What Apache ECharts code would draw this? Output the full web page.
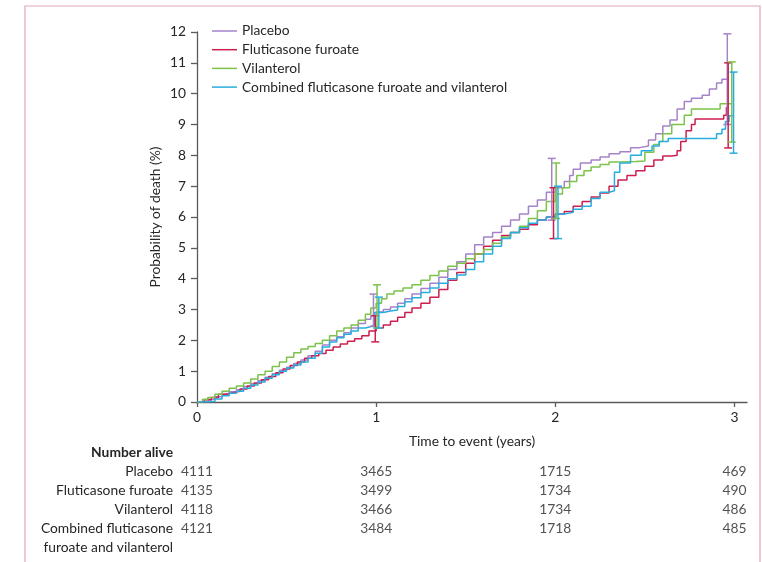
<!DOCTYPE html>
<html>
<head>
<meta charset="utf-8">
<script src="https://cdn.jsdelivr.net/npm/echarts@6/dist/echarts.min.js"></script>
<style>
  html, body { margin: 0; padding: 0; background: #fff; }
  #chart { width: 762px; height: 562px; }
</style>
</head>
<body>
<div id="chart"></div>
<script>
// --- data ---
const years = [0, 1, 2, 3]
const groups = ['Placebo', 'Fluticasone furoate', 'Vilanterol', 'Combined fluticasone furoate and vilanterol']
const colors = ['#a583c8', '#cc1f4f', '#7dc24a', '#27aee0']

// cumulative probability of death (%) — [years, %]
const placebo = [
  [0, 0], [0.03, 0.05], [0.07, 0.1], [0.1, 0.17], [0.14, 0.25], [0.18, 0.33], [0.22, 0.4], [0.26, 0.5],
  [0.3, 0.6], [0.34, 0.7], [0.38, 0.8], [0.42, 0.92], [0.46, 1.03], [0.5, 1.13], [0.54, 1.25], [0.58, 1.36],
  [0.62, 1.5], [0.66, 1.65], [0.7, 1.85], [0.74, 2.0], [0.78, 2.12], [0.82, 2.25], [0.86, 2.4], [0.9, 2.55],
  [0.94, 2.68], [0.97, 2.8], [1.0, 2.92], [1.04, 3.0], [1.08, 3.08], [1.12, 3.2], [1.16, 3.35], [1.2, 3.5],
  [1.25, 3.68], [1.3, 3.85], [1.35, 4.05], [1.4, 4.3], [1.45, 4.55], [1.5, 4.8], [1.55, 5.1], [1.6, 5.35],
  [1.65, 5.5], [1.7, 5.7], [1.75, 5.9], [1.8, 6.1], [1.85, 6.35], [1.9, 6.55], [1.95, 6.8], [2.0, 6.95],
  [2.05, 7.15], [2.08, 7.35], [2.1, 7.55], [2.14, 7.75], [2.2, 7.85], [2.25, 7.95], [2.3, 8.05], [2.36, 8.12],
  [2.42, 8.25], [2.47, 8.3], [2.52, 8.5], [2.56, 8.7], [2.6, 8.95], [2.64, 9.15], [2.68, 9.5], [2.72, 9.75],
  [2.76, 9.85], [2.82, 9.95], [2.86, 10.15], [2.9, 10.35], [2.93, 10.47], [2.96, 10.47],
]
const fluticasone = [
  [0, 0], [0.04, 0.08], [0.08, 0.15], [0.12, 0.25], [0.16, 0.3], [0.2, 0.35], [0.24, 0.42], [0.28, 0.52],
  [0.32, 0.62], [0.36, 0.72], [0.4, 0.83], [0.44, 0.95], [0.48, 1.07], [0.52, 1.18], [0.56, 1.3], [0.6, 1.42],
  [0.64, 1.5], [0.68, 1.57], [0.72, 1.68], [0.76, 1.78], [0.8, 1.88], [0.84, 1.97], [0.88, 2.05], [0.92, 2.15],
  [0.96, 2.3], [1.0, 2.4], [1.04, 2.5], [1.08, 2.62], [1.12, 2.75], [1.16, 2.9], [1.2, 3.05], [1.25, 3.2],
  [1.3, 3.4], [1.35, 3.65], [1.4, 3.95], [1.45, 4.2], [1.5, 4.5], [1.55, 4.8], [1.6, 5.05], [1.65, 5.25],
  [1.7, 5.4], [1.75, 5.5], [1.8, 5.6], [1.85, 5.75], [1.9, 5.9], [1.95, 6.0], [2.0, 6.1], [2.05, 6.18],
  [2.1, 6.35], [2.15, 6.5], [2.2, 6.65], [2.25, 6.78], [2.3, 7.0], [2.35, 7.2], [2.4, 7.35], [2.45, 7.5],
  [2.5, 7.65], [2.55, 7.85], [2.6, 7.98], [2.65, 8.0], [2.68, 8.15], [2.7, 8.45], [2.73, 8.8], [2.76, 9.0],
  [2.78, 9.18], [2.9, 9.18], [2.94, 9.3], [2.955, 9.55], [2.965, 9.55],
]
const vilanterol = [
  [0, 0], [0.03, 0.08], [0.06, 0.15], [0.1, 0.25], [0.14, 0.35], [0.18, 0.45], [0.22, 0.52], [0.26, 0.62],
  [0.3, 0.75], [0.34, 0.88], [0.38, 1.0], [0.42, 1.15], [0.46, 1.3], [0.5, 1.45], [0.54, 1.6], [0.58, 1.72],
  [0.62, 1.8], [0.66, 1.9], [0.7, 2.0], [0.74, 2.15], [0.78, 2.3], [0.82, 2.4], [0.86, 2.5], [0.9, 2.65],
  [0.94, 2.85], [0.97, 3.05], [1.0, 3.2], [1.03, 3.35], [1.06, 3.5], [1.1, 3.6], [1.15, 3.7], [1.2, 3.8],
  [1.25, 3.95], [1.3, 4.1], [1.35, 4.25], [1.4, 4.4], [1.45, 4.5], [1.5, 4.65], [1.55, 4.8], [1.6, 4.95],
  [1.65, 5.15], [1.7, 5.35], [1.75, 5.5], [1.8, 5.7], [1.85, 5.95], [1.9, 6.2], [1.95, 6.5], [2.0, 6.75],
  [2.04, 6.95], [2.08, 7.15], [2.12, 7.35], [2.16, 7.5], [2.2, 7.62], [2.25, 7.7], [2.3, 7.78], [2.36, 7.8],
  [2.45, 7.82], [2.5, 8.1], [2.55, 8.35], [2.58, 8.45], [2.6, 8.7], [2.65, 9.0], [2.7, 9.0], [2.72, 9.3],
  [2.76, 9.5], [2.88, 9.5], [2.92, 9.67], [2.985, 9.67],
]
const combined = [
  [0, 0], [0.06, 0.02], [0.1, 0.1], [0.14, 0.2], [0.18, 0.28], [0.22, 0.35], [0.26, 0.45], [0.3, 0.55],
  [0.34, 0.65], [0.38, 0.77], [0.42, 0.88], [0.46, 1.0], [0.5, 1.1], [0.54, 1.2], [0.58, 1.3], [0.62, 1.42],
  [0.66, 1.58], [0.7, 1.78], [0.74, 1.95], [0.78, 2.08], [0.82, 2.2], [0.86, 2.3], [0.9, 2.4], [0.94, 2.45],
  [0.97, 2.5], [0.99, 2.9], [1.04, 2.95], [1.08, 2.98], [1.12, 3.1], [1.16, 3.25], [1.2, 3.38], [1.25, 3.55],
  [1.3, 3.7], [1.35, 3.85], [1.4, 4.0], [1.45, 4.12], [1.5, 4.3], [1.55, 4.55], [1.6, 4.8], [1.65, 5.05],
  [1.7, 5.3], [1.75, 5.5], [1.8, 5.65], [1.85, 5.8], [1.9, 5.9], [1.95, 6.0], [2.0, 6.1], [2.05, 6.15],
  [2.1, 6.25], [2.15, 6.35], [2.2, 6.6], [2.25, 6.8], [2.3, 6.85], [2.33, 7.45], [2.36, 7.75], [2.42, 8.0],
  [2.48, 8.15], [2.54, 8.3], [2.58, 8.45], [2.63, 8.55], [2.88, 8.55], [2.9, 8.7], [2.93, 8.85], [2.95, 9.1],
  [2.97, 9.28], [2.995, 9.28],
]
const curves = [placebo, fluticasone, vilanterol, combined]

// 95% CI bars — [years, lower, upper]
const placeboCI = [[0.985, 2.45, 3.5], [1.98, 5.9, 7.9], [2.96, 9.0, 11.94]]
const fluticasoneCI = [[0.995, 1.95, 2.8], [1.99, 5.3, 6.95], [2.965, 8.24, 11.0]]
const vilanterolCI = [[1.005, 2.4, 3.8], [2.005, 5.95, 7.75], [2.985, 8.43, 11.03]]
const combinedCI = [[1.015, 2.4, 3.4], [2.015, 5.3, 7.0], [2.995, 8.07, 10.7]]
const intervals = [placeboCI, fluticasoneCI, vilanterolCI, combinedCI]

// number alive table
const alivePlacebo = [4111, 3465, 1715, 469]
const aliveFluticasone = [4135, 3499, 1734, 490]
const aliveVilanterol = [4118, 3466, 1734, 486]
const aliveCombined = [4121, 3484, 1718, 485]
const alive = [alivePlacebo, aliveFluticasone, aliveVilanterol, aliveCombined]
const tableRows = ['Number alive', 'Placebo', 'Fluticasone furoate', 'Vilanterol', 'Combined fluticasone', 'furoate and vilanterol']

const FONT = 'Lato'
const FS = 13.8
const TEXT = '#262626'
const AXIS = '#5a5a5a'

const chart = echarts.init(document.getElementById('chart'))

function errorBar(params, api) {
  const x = api.value(0)
  const lo = api.coord([x, api.value(1)])
  const hi = api.coord([x, api.value(2)])
  const style = { stroke: api.visual('color'), lineWidth: 1.5 }
  return {
    type: 'group',
    children: [
      { type: 'line', shape: { x1: lo[0], y1: lo[1], x2: hi[0], y2: hi[1] }, style },
      { type: 'line', shape: { x1: lo[0] - 4, y1: lo[1], x2: lo[0] + 4, y2: lo[1] }, style },
      { type: 'line', shape: { x1: hi[0] - 4, y1: hi[1], x2: hi[0] + 4, y2: hi[1] }, style },
    ],
  }
}

// table cells: [year, row label, count]
const tableCells = []
alive.forEach((row, i) => {
  row.forEach((n, j) => tableCells.push([years[j], tableRows[i + 1], n]))
})

const option = {
  animation: false,
  backgroundColor: '#fff',
  textStyle: { fontFamily: FONT },
  graphic: [
    { type: 'rect', shape: { x: 25, y: 6, width: 735, height: 600 }, style: { fill: 'none', stroke: '#e2a4ba', lineWidth: 1.2 }, silent: true },
  ],
  legend: {
    data: groups,
    orient: 'vertical',
    left: 212,
    top: 24,
    padding: 0,
    icon: 'rect',
    itemWidth: 25,
    itemHeight: 1.5,
    itemGap: 4.7,
    textStyle: { fontFamily: FONT, fontSize: FS, color: TEXT, lineHeight: 14 },
  },
  grid: [
    { left: 197, right: 15, top: 32, bottom: 160 },
    { left: 197, right: 15, top: 443.5, height: 114 },
  ],
  xAxis: [
    {
      type: 'value',
      min: 0,
      max: 3.07,
      interval: 1,
      name: 'Time to event (years)',
      nameLocation: 'middle',
      nameGap: 33,
      nameMoveOverlap: false,
      nameTextStyle: { fontFamily: FONT, fontSize: FS, color: TEXT },
      axisLine: { lineStyle: { color: AXIS, width: 1.3 } },
      axisTick: { length: 5, lineStyle: { color: AXIS, width: 1.3 }, customValues: years },
      axisLabel: { fontFamily: FONT, fontSize: FS, color: TEXT, margin: 9, customValues: years },
      splitLine: { show: false },
    },
    { gridIndex: 1, type: 'value', min: 0, max: 3.07, show: false },
  ],
  yAxis: [
    {
      type: 'value',
      min: 0,
      max: 12,
      interval: 1,
      name: 'Probability of death (%)',
      nameLocation: 'middle',
      nameGap: 34,
      nameMoveOverlap: false,
      nameTextStyle: { fontFamily: FONT, fontSize: FS, color: TEXT },
      axisLine: { show: true, lineStyle: { color: AXIS, width: 1.3 } },
      axisTick: { show: true, length: 6, lineStyle: { color: AXIS, width: 1.3 } },
      axisLabel: { fontFamily: FONT, fontSize: FS, color: TEXT, margin: 11 },
      splitLine: { show: false },
    },
    {
      gridIndex: 1,
      type: 'category',
      inverse: true,
      data: tableRows.map((r, i) => (i === 0 ? { value: r, textStyle: { fontWeight: 'bold' } } : r)),
      axisLine: { show: false },
      axisTick: { show: false },
      axisLabel: { fontFamily: FONT, fontSize: FS, color: TEXT, margin: 24 },
    },
  ],
  series: [
    ...groups.map((name, i) => ({
      name,
      type: 'line',
      step: 'end',
      data: curves[i],
      symbol: 'none',
      z: 3,
      lineStyle: { color: colors[i], width: 1.5 },
      itemStyle: { color: colors[i] },
    })),
    ...groups.map((name, i) => ({
      name: name + ' 95% CI',
      type: 'custom',
      renderItem: errorBar,
      data: intervals[i],
      itemStyle: { color: colors[i] },
      encode: { x: 0, y: [1, 2] },
      z: 4,
      silent: true,
    })),
    {
      name: 'Number alive',
      type: 'scatter',
      xAxisIndex: 1,
      yAxisIndex: 1,
      symbolSize: 0,
      data: tableCells,
      label: {
        show: true,
        position: 'inside',
        formatter: (p) => String(p.value[2]),
        fontFamily: FONT,
        fontSize: FS,
        color: TEXT,
      },
      silent: true,
    },
  ],
}

chart.setOption(option)
</script>
</body>
</html>
